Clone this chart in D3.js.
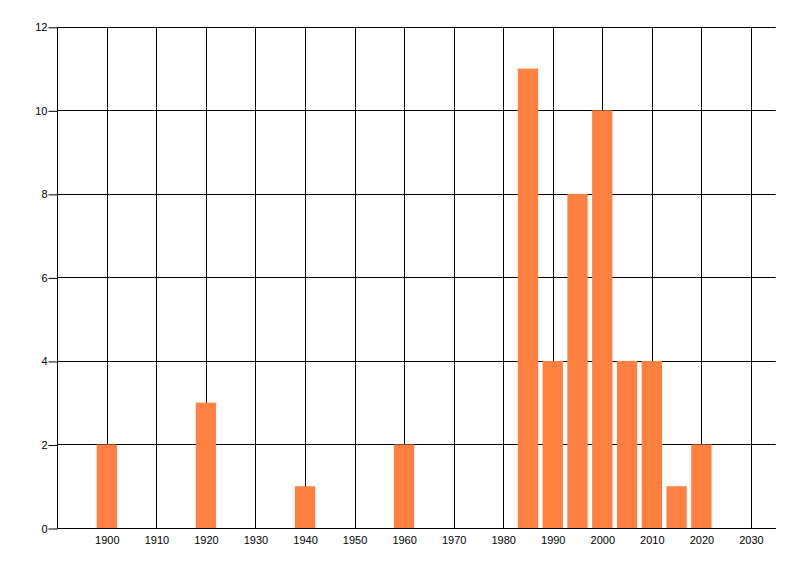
<!DOCTYPE html>
<html>
<head>
<meta charset="utf-8">
<script src="https://cdn.jsdelivr.net/npm/d3@7"></script>
<style>
  html, body { margin: 0; padding: 0; background: #fff; }
  svg { display: block; }
  .tick text { font-family: "Liberation Sans", Arial, sans-serif; font-size: 11px; fill: #000; }
</style>
</head>
<body>
<div id="chart"></div>
<script>
const years = [1900, 1920, 1940, 1960, 1985, 1990, 1995, 2000, 2005, 2010, 2015, 2020];
const counts = [2, 3, 1, 2, 11, 4, 8, 10, 4, 4, 1, 2];
const xTicks = [1900, 1910, 1920, 1930, 1940, 1950, 1960, 1970, 1980, 1990, 2000, 2010, 2020, 2030];
const yTicks = [0, 2, 4, 6, 8, 10, 12];

const width = 800;
const height = 576;
const margin = { top: 26.8, right: 24.3, bottom: 48, left: 57.3 };
const barYears = 4.1; // bar width in years

const svg = d3.select("#chart").append("svg")
    .attr("width", width)
    .attr("height", height);

const x = d3.scaleLinear()
    .domain([1890, 2035])
    .range([margin.left, width - margin.right]);

const y = d3.scaleLinear()
    .domain([0, 12])
    .range([height - margin.bottom, margin.top]);

// vertical gridlines
svg.append("g")
    .selectAll("line")
    .data(xTicks)
    .join("line")
    .attr("x1", d => Math.round(x(d)) + 0.5)
    .attr("x2", d => Math.round(x(d)) + 0.5)
    .attr("y1", y(12))
    .attr("y2", y(0))
    .attr("stroke", "#000");

// horizontal gridlines
svg.append("g")
    .selectAll("line")
    .data(yTicks)
    .join("line")
    .attr("x1", x(1890))
    .attr("x2", x(2035))
    .attr("y1", d => Math.round(y(d)) + 0.5)
    .attr("y2", d => Math.round(y(d)) + 0.5)
    .attr("stroke", "#000");

// bars
svg.append("g")
    .selectAll("rect")
    .data(years.map((yr, i) => ({ year: yr, value: counts[i] })))
    .join("rect")
    .attr("x", d => x(d.year - barYears / 2))
    .attr("width", d => x(d.year + barYears / 2) - x(d.year - barYears / 2))
    .attr("y", d => y(d.value))
    .attr("height", d => y(0) - y(d.value))
    .attr("fill", "#ff8040");

// y axis
const yAxis = svg.append("g")
    .attr("transform", `translate(${Math.round(x(1890)) + 0.5},0.5)`)
    .call(d3.axisLeft(y).tickValues(yTicks).tickSize(9).tickPadding(1).tickFormat(d3.format("d")));
yAxis.select(".domain").attr("stroke", "#000").attr("d", `M0,${y(12)}V${y(0)}`);
yAxis.selectAll(".tick line").attr("stroke", "#000");

// x axis labels only
const xAxis = svg.append("g")
    .attr("transform", `translate(0,${Math.round(y(0)) + 0.5})`)
    .call(d3.axisBottom(x).tickValues(xTicks).tickSize(0).tickPadding(8).tickFormat(d3.format("d")));
xAxis.select(".domain").attr("stroke", "#000").attr("d", `M${x(1890)},0H${x(2035)}`);
</script>
</body>
</html>
